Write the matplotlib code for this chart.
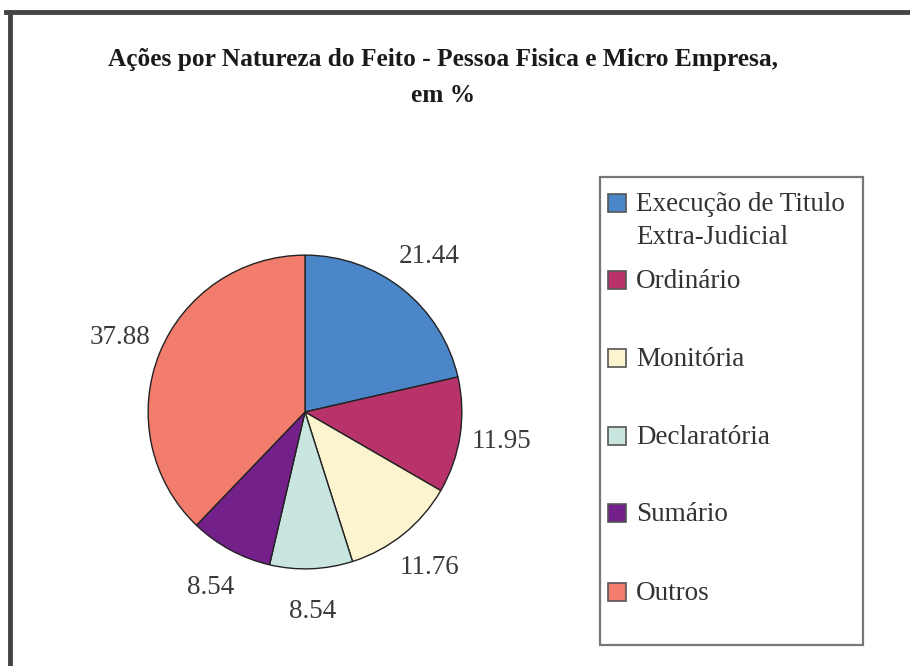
import matplotlib
matplotlib.use("Agg")
import matplotlib.pyplot as plt
from matplotlib.lines import Line2D
from matplotlib.patches import Rectangle

# data
categorias = ["Execução de Titulo\nExtra-Judicial", "Ordinário", "Monitória",
              "Declaratória", "Sumário", "Outros"]
percentuais = [21.44, 11.95, 11.76, 8.54, 8.54, 37.88]
cores = ["#4A86C8", "#B8336A", "#FBF4CE", "#C8E6DF", "#74208A", "#F27D6D"]

titulo = "Ações por Natureza do Feito - Pessoa Fisica e Micro Empresa,\nem %"

plt.rcParams["font.family"] = ["Liberation Serif", "DejaVu Serif"]

W, H = 910, 666
fig = plt.figure(figsize=(W / 100, H / 100), dpi=100)
fig.patch.set_facecolor("white")

# pie axes: square box of 400 px centred on the pie
cx, cy, box = 305, 412, 400
ax = fig.add_axes([(cx - box / 2) / W, 1 - (cy + box / 2) / H, box / W, box / H])
wedges, texts = ax.pie(
    percentuais, colors=cores, startangle=90, counterclock=False,
    labels=[f"{v:.2f}" for v in percentuais], labeldistance=1.27,
    wedgeprops=dict(edgecolor="#222222", linewidth=1.0),
    textprops=dict(fontsize=19.5, color="#3a3a3a"),
)
for t in texts:
    t.set_ha("center")
    t.set_va("center")
ax.set_xlim(-1.275, 1.275)
ax.set_ylim(-1.275, 1.275)
ax.set_aspect("equal")
ax.axis("off")

fig.text(443 / W, 1 - 48 / H, titulo, ha="center", va="top", fontsize=18.3,
         fontweight="bold", color="#1a1a1a", linespacing=1.75)

# legend box drawn by hand to follow the original spacing
fig.add_artist(Rectangle((600 / W, 1 - 645 / H), 263 / W, 468 / H,
                         transform=fig.transFigure, facecolor="white",
                         edgecolor="#777777", linewidth=1.6))
leg_y = [203, 280, 358, 436, 513, 592]
for nome, cor, y in zip(categorias, cores, leg_y):
    fig.add_artist(Rectangle((608 / W, 1 - (y + 9) / H), 18 / W, 18 / H,
                             transform=fig.transFigure, facecolor=cor,
                             edgecolor="#555555", linewidth=1.2))
    fig.text(636 / W, 1 - (y - 11) / H, nome, ha="left", va="top",
             fontsize=19.5, color="#333333", linespacing=1.4,
             multialignment="left")

# dark frame on top and left of the original scan
fig.add_artist(Line2D([6 / W, 1], [1 - 12 / H] * 2, transform=fig.transFigure,
                      color="#444444", linewidth=3.5))
fig.add_artist(Line2D([10 / W] * 2, [1 - 12 / H, 0], transform=fig.transFigure,
                      color="#444444", linewidth=3.5))

fig.savefig("out.png", dpi=100, facecolor="white")
